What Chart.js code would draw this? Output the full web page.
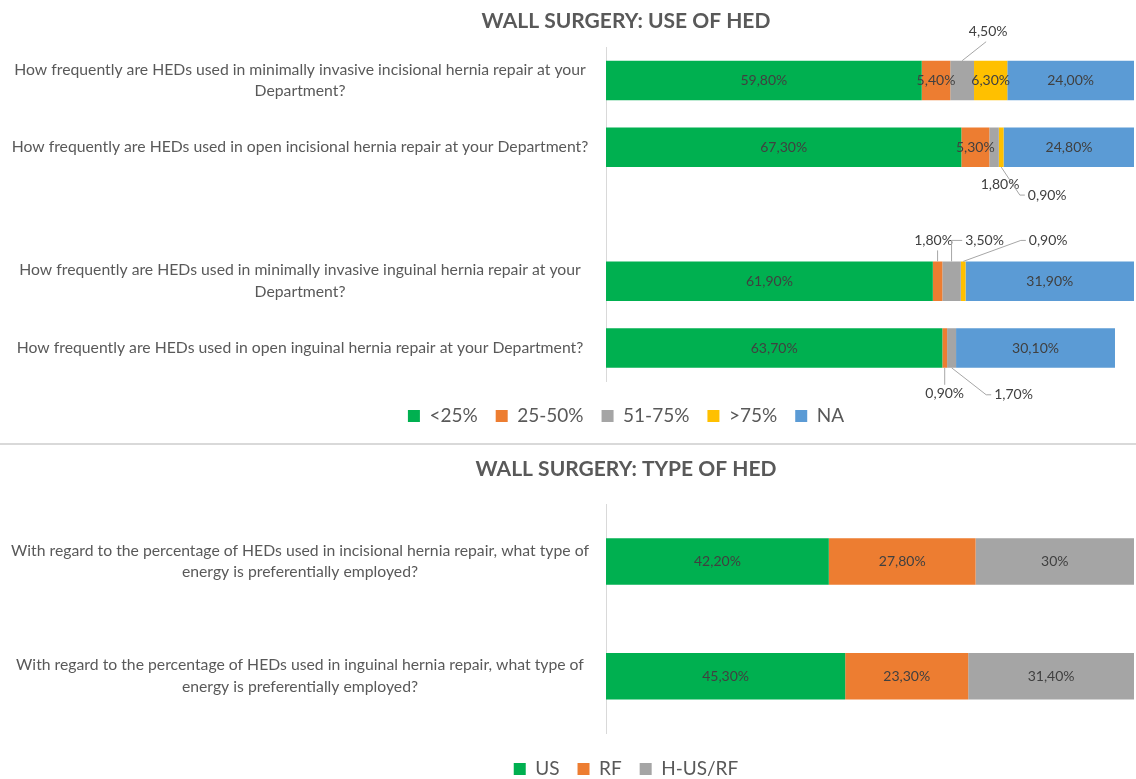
<!DOCTYPE html>
<html>
<head>
<meta charset="utf-8">
<script src="https://cdn.jsdelivr.net/npm/chart.js@4/dist/chart.umd.min.js"></script>
<style>
  body { margin: 0; background: #fff; overflow: hidden; width: 1136px; }
  .box { position: relative; width: 1252px; }
  .rule { width: 1136px; height: 0; border-top: 2px solid #d9d9d9; }
</style>
</head>
<body>
<div class="box" style="height:443px"><canvas id="useChart"></canvas></div>
<div class="rule"></div>
<div class="box" style="height:345px"><canvas id="typeChart"></canvas></div>
<script>
// Top chart: use of HED (an empty slot keeps the gap between incisional and inguinal)
const useCategories = [
    ['How frequently are HEDs used in minimally invasive incisional hernia repair at your', 'Department?'],
    'How frequently are HEDs used in open incisional hernia repair at your Department?',
    '',
    ['How frequently are HEDs used in minimally invasive inguinal hernia repair at your', 'Department?'],
    'How frequently are HEDs used in open inguinal hernia repair at your Department?'
];
const under25 = [59.8, 67.3, null, 61.9, 63.7];
const from25to50 = [5.4, 5.3, null, 1.8, 0.9];
const from51to75 = [4.5, 1.8, null, 3.5, 1.7];
const over75 = [6.3, 0.9, null, 0.9, 0];
const notApplicable = [24.0, 24.8, null, 31.9, 30.1];

// Bottom chart: type of HED
const typeCategories = [
    ['With regard to the percentage of HEDs used in incisional hernia repair, what type of', 'energy is preferentially employed?'],
    ['With regard to the percentage of HEDs used in inguinal hernia repair, what type of', 'energy is preferentially employed?']
];
const usShare = [42.2, 45.3];
const rfShare = [27.8, 23.3];
const hybridShare = [30, 31.4];
const hybridDigits = [0, 2];   // "30%" is printed without decimals

const COLORS = {
    green: '#00B050', orange: '#ED7D31', gray: '#A5A5A5', yellow: '#FFC000', blue: '#5B9BD5'
};
const LABEL_COLOR = '#404040';
const TEXT_COLOR = '#595959';
const AXIS_X = 606;       // left edge of the plot
const PLOT_RIGHT = 1134;  // where 100% ends
const LABEL_CENTER = 300; // centre of the question texts
const CANVAS_W = 1252;    // wider than the window so title and legend centre near x=626
const TICK_FONT = 15.75;

Chart.defaults.font.family = 'Lato';
Chart.defaults.animation = false;

// value labels placed outside thin segments, with leader lines
const useCallouts = [
    { ds: 2, i: 0, edge: 'top', dx: 26, dy: -29, leader: 'toBottom' },
    { ds: 2, i: 1, edge: 'bottom', dx: 6, dy: 17, leader: 'none' },
    { ds: 3, i: 1, edge: 'bottom', dx: 46, dy: 28, leader: 'toLeft' },
    { ds: 1, i: 3, edge: 'top', dx: -4, dy: -21, leader: 'vertical' },
    { ds: 2, i: 3, edge: 'top', dx: 33, dy: -21, leader: 'elbow' },
    { ds: 3, i: 3, edge: 'top', dx: 85, dy: -21, leader: 'toLeft' },
    { ds: 1, i: 4, edge: 'bottom', dx: 0, dy: 26, leader: 'vertical' },
    { ds: 2, i: 4, edge: 'bottom', dx: 62, dy: 27, leader: 'toLeft' }
];

const fmt = (v, digits) => v.toFixed(digits).replace('.', ',') + '%';

const valueLabels = {
    id: 'valueLabels',
    afterDatasetsDraw(chart, args, opts) {
        const ctx = chart.ctx;
        const callouts = opts.callouts || [];
        ctx.save();
        ctx.font = '14px Lato';
        ctx.fillStyle = LABEL_COLOR;
        ctx.textBaseline = 'middle';
        ctx.textAlign = 'center';
        chart.data.datasets.forEach((ds, d) => {
            const meta = chart.getDatasetMeta(d);
            meta.data.forEach((el, i) => {
                const v = ds.data[i];
                if (!v) return;
                const digits = ds.digits ? ds.digits[i] : 2;
                const text = fmt(v, digits);
                const p = el.getProps(['x', 'y', 'base', 'height'], true);
                const cx = (p.x + p.base) / 2;
                const co = callouts.find(c => c.ds === d && c.i === i);
                if (!co) {
                    ctx.fillText(text, cx, p.y);
                    return;
                }
                const ay = co.edge === 'top' ? p.y - p.height / 2 : p.y + p.height / 2;
                const lx = cx + co.dx;
                const ly = ay + co.dy;
                const w = ctx.measureText(text).width;
                ctx.strokeStyle = '#A6A6A6';
                ctx.lineWidth = 1;
                ctx.beginPath();
                ctx.moveTo(cx, ay);
                if (co.leader === 'toBottom') {
                    ctx.lineTo(lx - 2, ly + 10);
                } else if (co.leader === 'vertical') {
                    ctx.lineTo(cx, ly + (co.dy < 0 ? 10 : -9));
                } else if (co.leader === 'elbow') {
                    ctx.lineTo(cx, ly);
                    ctx.lineTo(lx - w / 2 - 3, ly);
                } else if (co.leader === 'toLeft') {
                    ctx.lineTo(lx - w / 2 - 8, ly);
                    ctx.lineTo(lx - w / 2 - 3, ly);
                }
                if (co.leader !== 'none') ctx.stroke();
                ctx.fillText(text, lx, ly);
            });
        });
        ctx.restore();
    }
};

// padding so that the centred question texts sit around LABEL_CENTER
const tickPadding = (labels) => {
    const m = document.createElement('canvas').getContext('2d');
    m.font = TICK_FONT + 'px Lato';
    let widest = 0;
    labels.flat().forEach(t => { widest = Math.max(widest, m.measureText(t).width); });
    return Math.max(AXIS_X - LABEL_CENTER - widest / 2, 2);
};

const makeOptions = (cfg) => ({
    indexAxis: 'y',
    responsive: true,
    maintainAspectRatio: false,
    layout: { padding: { left: 0, right: 0, top: 0, bottom: cfg.bottomPad } },
    scales: {
        x: {
            stacked: true,
            min: 0,
            max: 100,
            display: true,
            grid: { display: false, drawTicks: false },
            border: { display: false },
            ticks: { display: false },
            afterFit: s => { s.height = cfg.spacer; }
        },
        y: {
            stacked: true,
            grid: { display: false, drawTicks: false },
            border: { display: true, color: '#D9D9D9', width: 1 },
            ticks: {
                autoSkip: false,
                crossAlign: 'center',
                padding: tickPadding(cfg.labels),
                color: TEXT_COLOR,
                font: { size: TICK_FONT, lineHeight: 1.37 }
            },
            afterFit: s => {
                s.width = AXIS_X;
                s.paddingTop = 0;
                s.paddingBottom = 0;
            }
        },
        // empty box on the right, keeps the plot ending at PLOT_RIGHT
        yRight: {
            type: 'category',
            axis: 'y',
            position: 'right',
            display: true,
            grid: { display: false, drawTicks: false },
            border: { display: false },
            ticks: { display: false },
            afterFit: s => {
                s.width = CANVAS_W - PLOT_RIGHT;
                s.paddingTop = 0;
                s.paddingBottom = 0;
            }
        }
    },
    plugins: {
        title: {
            display: true,
            text: cfg.title,
            color: TEXT_COLOR,
            font: { size: 21, weight: 'bold' },
            padding: cfg.titlePad
        },
        legend: {
            position: 'bottom',
            labels: {
                boxWidth: 12,
                boxHeight: 12,
                padding: 18,
                color: TEXT_COLOR,
                font: { size: 19 }
            }
        },
        tooltip: { enabled: false },
        valueLabels: { callouts: cfg.callouts }
    }
});

new Chart(document.getElementById('useChart'), {
    type: 'bar',
    data: {
        labels: useCategories,
        datasets: [
            { label: '<25%', data: under25, backgroundColor: COLORS.green },
            { label: '25-50%', data: from25to50, backgroundColor: COLORS.orange },
            { label: '51-75%', data: from51to75, backgroundColor: COLORS.gray },
            { label: '>75%', data: over75, backgroundColor: COLORS.yellow },
            { label: 'NA', data: notApplicable, backgroundColor: COLORS.blue }
        ].map(d => ({ ...d, categoryPercentage: 0.59, barPercentage: 1 }))
    },
    options: makeOptions({
        title: 'WALL SURGERY: USE OF HED',
        titlePad: { top: 9, bottom: 12.8 },
        labels: useCategories,
        spacer: 7,
        bottomPad: 7.5,
        callouts: useCallouts
    }),
    plugins: [valueLabels]
});

new Chart(document.getElementById('typeChart'), {
    type: 'bar',
    data: {
        labels: typeCategories,
        datasets: [
            { label: 'US', data: usShare, backgroundColor: COLORS.green },
            { label: 'RF', data: rfShare, backgroundColor: COLORS.orange },
            { label: 'H-US/RF', data: hybridShare, digits: hybridDigits, backgroundColor: COLORS.gray }
        ].map(d => ({ ...d, categoryPercentage: 0.405, barPercentage: 1 }))
    },
    options: makeOptions({
        title: 'WALL SURGERY: TYPE OF HED',
        titlePad: { top: 11.4, bottom: 22.4 },
        labels: typeCategories,
        spacer: 7.9,
        bottomPad: 1.5,
        callouts: []
    }),
    plugins: [valueLabels]
});
</script>
</body>
</html>
